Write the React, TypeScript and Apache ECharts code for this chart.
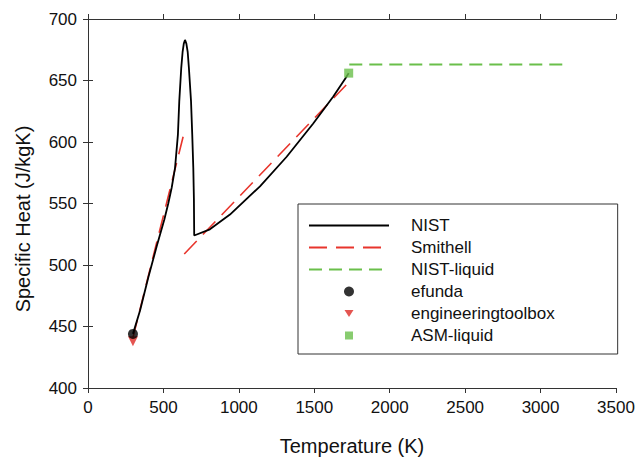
import React, { useEffect, useRef } from "react";
import * as echarts from "echarts";

const nistT = [298, 345, 400, 455, 506, 532, 555, 577, 596, 605, 618, 627, 635, 643, 652, 661, 669, 683, 691, 698, 702, 704, 808, 941, 1140, 1317, 1493, 1626, 1708, 1728];
const nistCp = [444, 463, 490, 515, 537, 550, 563, 579, 606, 633, 660, 673, 680, 683, 680, 673, 660, 633, 606, 579, 554, 524, 529, 541, 564, 588, 615, 637, 652, 656];

const smithellA_T = [298, 634];
const smithellA_Cp = [441, 606];
const smithellB_T = [638, 1732];
const smithellB_Cp = [509, 649];

const nistLiquidT = [1732, 3165];
const nistLiquidCp = [663, 663];

const efundaT = [298];
const efundaCp = [444];
const etbT = [298];
const etbCp = [438];
const asmT = [1728];
const asmCp = [656];

const xTicks = { min: 0, max: 3500, interval: 500 };
const yTicks = { min: 400, max: 700, interval: 50 };

const pairs = (xs: number[], ys: number[]) => xs.map((x, i) => [x, ys[i]]);

const FONT = "Liberation Sans, Arial, sans-serif";
const RED = "#e8352c";
const GREEN = "#6abf4b";
const AXIS = "#333333";

export default function App() {
  const ref = useRef<HTMLDivElement>(null);
  useEffect(() => {
    if (!ref.current) return;
    const chart = echarts.init(ref.current, undefined, { renderer: "svg" });
    const axisCommon = {
      type: "value" as const,
      axisLine: { show: true, lineStyle: { color: AXIS, width: 1 } },
      axisTick: { show: true, inside: false, length: 5, lineStyle: { color: AXIS, width: 1 } },
      splitLine: { show: false },
    };
    const plain = (v: number) => String(v);
    const smithellData: any[] = [
      ...pairs(smithellA_T, smithellA_Cp),
      "-",
      ...pairs(smithellB_T, smithellB_Cp),
    ];
    const hideSym = { itemStyle: { opacity: 0 } };
    chart.setOption({
      animation: false,
      backgroundColor: "#ffffff",
      textStyle: { fontFamily: FONT },
      grid: { left: 88, right: 20, top: 19, bottom: 69, outerBoundsMode: "none", containLabel: false },
      xAxis: [
        {
          ...axisCommon,
          ...xTicks,
          position: "bottom",
          name: "Temperature (K)",
          nameLocation: "middle",
          nameGap: 48,
          nameTextStyle: { fontSize: 20, color: "#111", fontFamily: FONT },
          axisLabel: { fontSize: 17, color: "#111", margin: 11, fontFamily: FONT, formatter: plain },
        },
        {
          ...axisCommon,
          ...xTicks,
          position: "top",
          axisLabel: { show: false },
        },
      ],
      yAxis: [
        {
          ...axisCommon,
          ...yTicks,
          position: "left",
          name: "Specific Heat (J/kgK)",
          nameLocation: "middle",
          nameGap: 55,
          nameTextStyle: { fontSize: 20, color: "#111", fontFamily: FONT, padding: [0, 31, 0, 0] },
          axisLabel: { fontSize: 17, color: "#111", margin: 11, fontFamily: FONT, formatter: plain },
        },
        {
          ...axisCommon,
          ...yTicks,
          position: "right",
          axisLabel: { show: false },
        },
      ],
      legend: {
        orient: "vertical",
        left: 298,
        top: 204,
        padding: [13, 63, 10, 10],
        borderColor: AXIS,
        borderWidth: 1,
        itemWidth: 80,
        itemHeight: 10,
        itemGap: 5,
        textStyle: { fontSize: 17, lineHeight: 17, color: "#111", fontFamily: FONT, padding: [0, 0, 0, 17] },
        data: [
          { name: "NIST", ...hideSym },
          { name: "Smithell", ...hideSym },
          { name: "NIST-liquid", ...hideSym },
          { name: "efunda" },
          { name: "engineeringtoolbox", icon: "path://M0,0M10,10M0.5,1.5L9.5,1.5L5,8.5Z" },
          { name: "ASM-liquid", icon: "path://M0,0M10,10M1,1L9,1L9,9L1,9Z" },
        ],
      },
      series: [
        {
          name: "engineeringtoolbox",
          type: "scatter",
          symbol: "triangle",
          symbolRotate: 180,
          symbolSize: [10, 10],
          itemStyle: { color: "#dd2a26" },
          data: pairs(etbT, etbCp),
          z: 3,
        },
        {
          name: "efunda",
          type: "scatter",
          symbol: "circle",
          symbolSize: 10,
          itemStyle: { color: "#000000" },
          data: pairs(efundaT, efundaCp),
          z: 4,
        },
        {
          name: "Smithell",
          type: "line",
          symbol: "none",
          connectNulls: false,
          lineStyle: { color: RED, width: 1.6, type: [18, 9] },
          itemStyle: { color: RED },
          data: smithellData,
          z: 2,
        },
        {
          name: "NIST-liquid",
          type: "line",
          symbol: "none",
          lineStyle: { color: GREEN, width: 1.8, type: [13, 7] },
          itemStyle: { color: GREEN },
          data: pairs(nistLiquidT, nistLiquidCp),
          z: 2,
        },
        {
          name: "NIST",
          type: "line",
          symbol: "none",
          lineStyle: { color: "#000000", width: 1.8 },
          itemStyle: { color: "#000000" },
          data: pairs(nistT, nistCp),
          z: 5,
        },
        {
          name: "ASM-liquid",
          type: "scatter",
          symbol: "rect",
          symbolSize: 9,
          itemStyle: { color: GREEN },
          data: pairs(asmT, asmCp),
          z: 6,
        },
      ],
    });
    return () => chart.dispose();
  }, []);
  return <div ref={ref} style={{ width: 636, height: 457, position: "absolute", left: 0, top: 0 }} />;
}
